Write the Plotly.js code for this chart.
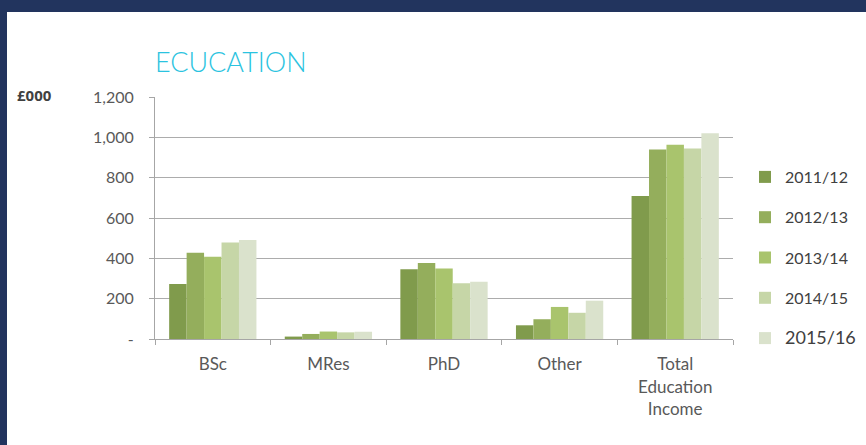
<!DOCTYPE html>
<html><head><meta charset="utf-8">
<script src="https://cdn.plot.ly/plotly-3.0.1.min.js"></script>
<style>
html,body{margin:0;padding:0;background:#22345e;width:866px;height:445px;overflow:hidden}
#card{position:absolute;left:7px;top:12px;width:859px;height:433px;background:#ffffff}
#chart{position:absolute;left:0;top:0;width:866px;height:445px}
</style></head>
<body><div id="card"></div><div id="chart"></div>
<script>
const categories = ["BSc", "MRes", "PhD", "Other", "Total<br>Education<br>Income"];
const years = ["2011/12", "2012/13", "2013/14", "2014/15", "2015/16"];
const v2011 = [273, 12, 346, 68, 709];
const v2012 = [428, 25, 377, 98, 940];
const v2013 = [408, 37, 349, 159, 963];
const v2014 = [479, 33, 277, 130, 945];
const v2015 = [491, 36, 284, 190, 1020];
const yTickVals = [0, 200, 400, 600, 800, 1000, 1200];
const yTickText = ["-", "200", "400", "600", "800", "1,000", "1,200"];
const colors = ["#809b4c", "#94ae5c", "#a9c46d", "#c6d6a7", "#dae2cc"];
const series = [v2011, v2012, v2013, v2014, v2015];

const traces = series.map((vals, i) => ({
  type: "bar", x: categories, y: vals,
  name: i === 4 ? '<span style="font-size:18px">' + years[i] + '</span>' : years[i],
  legendgroup: "g" + i,
  marker: {color: colors[i], line: {width: 0}},
  hoverinfo: "y"
}));

const layout = {
  width: 866, height: 445,
  margin: {l: 155, r: 133, t: 97, b: 106, autoexpand: false},
  paper_bgcolor: "rgba(0,0,0,0)", plot_bgcolor: "rgba(0,0,0,0)",
  barmode: "group", bargap: 0.245, bargroupgap: 0,
  font: {family: "Lato, 'Open Sans', sans-serif", color: "#595959"},
  title: {text: "ECUCATION", font: {family: "Lato", size: 27, weight: 300, color: "#2bc3e0"},
    xref: "container", x: 155/866, xanchor: "left", yref: "container", y: 1 - 63/445, yanchor: "middle"},
  xaxis: {type: "category", showline: true, linecolor: "#a6a6a6", linewidth: 1,
    ticks: "outside", tickson: "boundaries", ticklen: 5, tickcolor: "#a6a6a6",
    tickfont: {size: 17, color: "#595959"}, ticklabelstandoff: 10, showgrid: false, fixedrange: true},
  yaxis: {range: [0, 1200], tickvals: yTickVals, ticktext: yTickText,
    showline: true, linecolor: "#a6a6a6", linewidth: 1, ticks: "outside", ticklen: 5, tickcolor: "#a6a6a6",
    gridcolor: "#acacac", gridwidth: 1, zeroline: false,
    tickfont: {size: 16, color: "#595959"}, ticklabelstandoff: 12, fixedrange: true},
  legend: {x: (785 - 40 - 155) / 578, xanchor: "left", y: (339 - 160) / 242, yanchor: "top",
    font: {size: 16, color: "#404040"}, tracegroupgap: 16.5, bgcolor: "rgba(0,0,0,0)"},
  annotations: [{text: "<b>£000</b>", xref: "paper", yref: "paper", x: (15 - 155) / 578, xanchor: "left",
    y: (339 - 95) / 242, yanchor: "middle", showarrow: false, font: {family: "'Noto Sans'", size: 15, color: "#404040"}}],
  showlegend: true
};
Plotly.newPlot("chart", traces, layout, {displayModeBar: false, staticPlot: true});
</script></body></html>
